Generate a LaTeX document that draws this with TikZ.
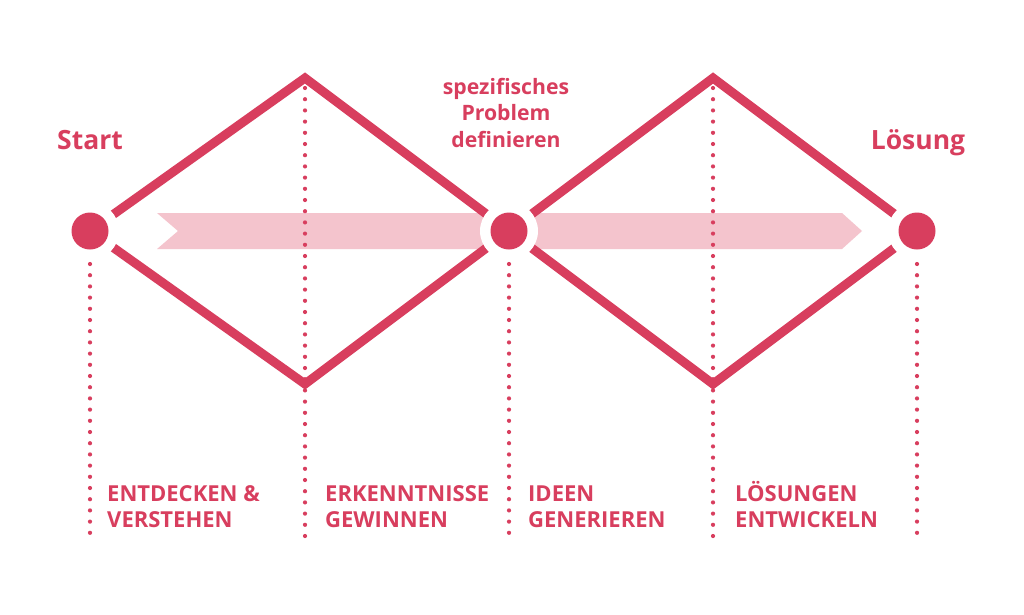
\documentclass[tikz,border=0pt]{standalone}
\usepackage{fontspec}
\setmainfont{Open Sans}
\definecolor{dred}{RGB}{216,62,94}
\definecolor{lpink}{RGB}{244,196,205}
\begin{document}
\begin{tikzpicture}[x=1pt,y=-1pt,
  diamondline/.style={draw=dred, line width=9pt, miter limit=10},
  dotline/.style={draw=dred, line width=4.2pt, line cap=round, dash pattern=on 0pt off 11.2pt},
  ring/.style={circle, fill=white, minimum size=58pt, inner sep=0pt},
  dotnode/.style={circle, fill=dred, minimum size=37pt, inner sep=0pt},
  title/.style={text=dred, font=\fontsize{26.5}{30}\selectfont\bfseries, inner sep=0pt},
  midtitle/.style={text=dred, font=\fontsize{21.2}{26.5}\selectfont\bfseries, align=center, inner sep=0pt},
  phase/.style={text=dred, font=\fontsize{22}{25.5}\selectfont\bfseries, align=left, inner sep=0pt, anchor=base west}]
\useasboundingbox (0,0) rectangle (1024,614);
\fill[white] (0,0) rectangle (1024,614);
% coordinates
\coordinate (p1) at (90,231);
\coordinate (p2) at (509,231);
\coordinate (p3) at (917,231);
\coordinate (t1) at (305,78);
\coordinate (b1) at (305,384);
\coordinate (t2) at (713,78);
\coordinate (b2) at (713,384);
% arrow band
\fill[lpink] (157,213) -- (842,213) -- (862,231) -- (842,249) -- (157,249) -- (178,231) -- cycle;
% diamonds
\draw[diamondline] (p1) -- (t1) -- (p2) -- (b1) -- cycle;
\draw[diamondline] (p2) -- (t2) -- (p3) -- (b2) -- cycle;
% dotted lines
\coordinate (d1s) at (90,264); \coordinate (d1e) at (90,540);
\coordinate (d2s) at (305,88); \coordinate (d2e) at (305,540);
\coordinate (d3s) at (509,264); \coordinate (d3e) at (509,540);
\coordinate (d4s) at (713,88); \coordinate (d4e) at (713,540);
\coordinate (d5s) at (917,264); \coordinate (d5e) at (917,540);
\draw[dotline] (d1s) -- (d1e);
\draw[dotline] (d2s) -- (d2e);
\draw[dotline] (d3s) -- (d3e);
\draw[dotline] (d4s) -- (d4e);
\draw[dotline] (d5s) -- (d5e);
% circles
\node[ring] (r1) at (p1) {};
\node[ring] (r2) at (p2) {};
\node[ring] (r3) at (p3) {};
\node[dotnode] (c1) at (p1) {};
\node[dotnode] (c2) at (p2) {};
\node[dotnode] (c3) at (p3) {};
% titles
\node[title, anchor=base] (start) at (90,149) {Start};
\node[title, anchor=base] (loesung) at (918,149) {Lösung};
\node[midtitle, anchor=north] (problem) at (506,78) {spezifisches\\Problem\\definieren};
% phases
\node[phase] (ph1) at (107,527) {ENTDECKEN \&\\VERSTEHEN};
\node[phase] (ph2) at (325,527) {ERKENNTNISSE\\GEWINNEN};
\node[phase] (ph3) at (528,527) {IDEEN\\GENERIEREN};
\node[phase] (ph4) at (735,527) {LÖSUNGEN\\ENTWICKELN};
\end{tikzpicture}
\end{document}
